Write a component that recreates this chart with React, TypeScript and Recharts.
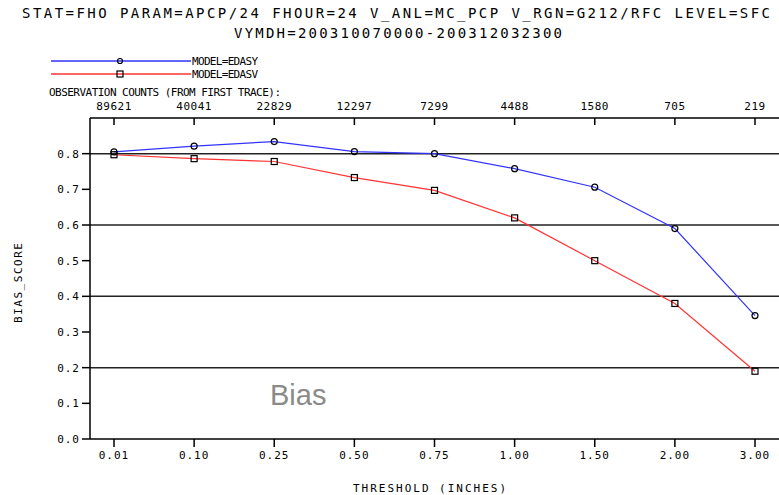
import React from "react";
import { LineChart, Line, XAxis, YAxis, ReferenceLine } from "recharts";

const thresholds = ["0.01", "0.10", "0.25", "0.50", "0.75", "1.00", "1.50", "2.00", "3.00"];
const obsCounts = ["89621", "40041", "22829", "12297", "7299", "4488", "1580", "705", "219"];
const edasy = [0.805, 0.821, 0.834, 0.806, 0.8, 0.758, 0.706, 0.59, 0.346];
const edasv = [0.797, 0.786, 0.778, 0.733, 0.697, 0.62, 0.5, 0.38, 0.19];
const yTicks = [0, 0.1, 0.2, 0.3, 0.4, 0.5, 0.6, 0.7, 0.8];
const gridValues = [0.2, 0.4, 0.6, 0.8];

const data = thresholds.map((t, i) => ({
  threshold: t,
  count: obsCounts[i],
  edasy: edasy[i],
  edasv: edasv[i],
}));

const MONO = "'DejaVu Sans Mono', monospace";

const CircleDot = (p: any) => (
  <circle key={p.index} cx={p.cx} cy={p.cy} r={3} fill="none" stroke="#000" strokeWidth={1.2} />
);
const SquareDot = (p: any) => (
  <rect key={p.index} x={p.cx - 3} y={p.cy - 3} width={6} height={6} fill="none" stroke="#000" strokeWidth={1.2} />
);

// counts on top, tick marks point into the plot
const TopTick = (p: any) => (
  <g>
    <line x1={p.x} x2={p.x} y1={p.y + 8} y2={p.y + 15} stroke="#000" strokeWidth={1.5} />
    <text x={p.x} y={p.y} textAnchor="middle" fontSize={11} fontFamily={MONO} fill="#000" letterSpacing={0.5}>
      {p.payload.value}
    </text>
  </g>
);

export default function App() {
  return (
    <div style={{ position: "absolute", left: 0, top: 0, width: 779, height: 495, background: "#fff" }}>
      <LineChart width={779} height={495} data={data} margin={{ top: 88, right: 0, bottom: 26, left: 50 }}>
        <XAxis
          dataKey="threshold"
          padding={{ left: 24, right: 24 }}
          height={30}
          tickSize={8}
          tickMargin={4}
          stroke="#000"
          axisLine={{ stroke: "#000", strokeWidth: 1.5 }}
          tickLine={{ stroke: "#000", strokeWidth: 1.5 }}
          tick={{ fill: "#000", fontSize: 11, fontFamily: MONO, letterSpacing: 1 }}
        />
        <XAxis
          xAxisId="top"
          orientation="top"
          dataKey="count"
          padding={{ left: 24, right: 24 }}
          height={30}
          tickSize={0}
          tickMargin={8}
          axisLine={{ stroke: "#000", strokeWidth: 1.5 }}
          tickLine={false}
          tick={TopTick}
        />
        <YAxis
          domain={[0, 0.9]}
          ticks={yTicks}
          width={40}
          tickSize={8}
          tickMargin={2}
          axisLine={{ stroke: "#000", strokeWidth: 1.5 }}
          tickLine={{ stroke: "#000", strokeWidth: 1.5 }}
          tickFormatter={(v: number) => v.toFixed(1)}
          tick={{ fill: "#000", fontSize: 11, fontFamily: MONO, letterSpacing: 1 }}
        />
        {gridValues.map((v) => (
          <ReferenceLine key={v} y={v} stroke="#222" strokeWidth={1.5} />
        ))}
        <Line dataKey="edasy" stroke="#3333ff" strokeWidth={1.2} dot={CircleDot} isAnimationActive={false} />
        <Line dataKey="edasv" stroke="#ff3333" strokeWidth={1.2} dot={SquareDot} isAnimationActive={false} />
      </LineChart>
      <svg width={779} height={495} style={{ position: "absolute", left: 0, top: 0, pointerEvents: "none" }}>
        <g fontFamily={MONO} fill="#000">
          <text x={22} y={18} fontSize={14} textLength={748} lengthAdjust="spacing">
            STAT=FHO PARAM=APCP/24 FHOUR=24 V_ANL=MC_PCP V_RGN=G212/RFC LEVEL=SFC
          </text>
          <text x={234} y={38} fontSize={14} textLength={328} lengthAdjust="spacing">
            VYMDH=200310070000-200312032300
          </text>
          <line x1={51} x2={191} y1={61} y2={61} stroke="#3333ff" strokeWidth={1.5} />
          <circle cx={120} cy={61} r={2.5} fill="none" stroke="#000" strokeWidth={1.2} />
          <text x={192} y={65} fontSize={11} textLength={66} lengthAdjust="spacing">MODEL=EDASY</text>
          <line x1={51} x2={191} y1={74} y2={74} stroke="#ff3333" strokeWidth={1.5} />
          <rect x={117} y={71} width={6} height={6} fill="none" stroke="#000" strokeWidth={1.2} />
          <text x={192} y={78} fontSize={11} textLength={66} lengthAdjust="spacing">MODEL=EDASV</text>
          <text x={49} y={96} fontSize={11} textLength={232} lengthAdjust="spacing">
            OBSERVATION COUNTS (FROM FIRST TRACE):
          </text>
          <text x={353} y={492} fontSize={11} textLength={153} lengthAdjust="spacing">
            THRESHOLD (INCHES)
          </text>
          <text
            x={0}
            y={0}
            fontSize={11}
            textLength={80}
            lengthAdjust="spacing"
            transform="translate(22, 323) rotate(-90)"
          >
            BIAS_SCORE
          </text>
        </g>
        <text x={270} y={405} fontSize={29} fontFamily="'Liberation Sans', Arial, sans-serif" fill="#8a8a8a">
          Bias
        </text>
      </svg>
    </div>
  );
}
